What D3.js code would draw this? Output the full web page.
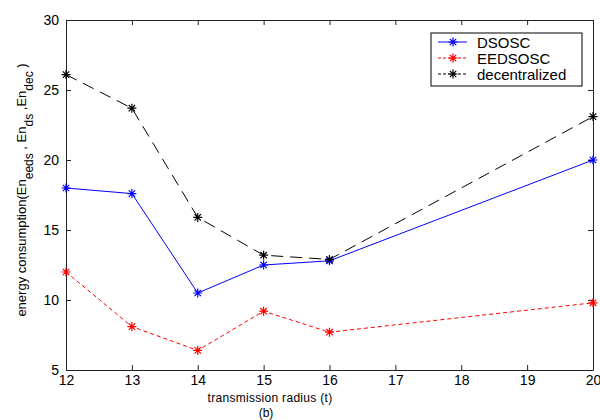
<!DOCTYPE html>
<html>
<head>
<meta charset="utf-8">
<script src="https://cdn.jsdelivr.net/npm/d3@7"></script>
<style>
  body { margin: 0; background: #fff; }
  text { font-family: "Liberation Sans", Arial, sans-serif; }
</style>
</head>
<body>
<script>
// transmission radius values
var radius = [12, 13, 14, 15, 16, 20];

var dsosc = [18.0, 17.6, 10.5, 12.5, 12.8, 20.0];
var eedsosc = [12.0, 8.1, 6.4, 9.2, 7.7, 9.8];
var decentralized = [26.1, 23.7, 15.9, 13.2, 12.9, 23.1];

var xTicks = [12, 13, 14, 15, 16, 17, 18, 19, 20];
var yTicks = [5, 10, 15, 20, 25, 30];

var seriesNames = ["DSOSC", "EEDSOSC", "decentralized"];
var seriesColors = ["#0000ff", "#ff0000", "#000000"];
var seriesDash = [null, "4,3", "12,7"];
var seriesData = [dsosc, eedsosc, decentralized];

var width = 600, height = 420;
var margin = {top: 20, right: 7, bottom: 50, left: 66};

var svg = d3.select("body")
    .append("svg")
    .attr("width", width)
    .attr("height", height);

var x = d3.scaleLinear().domain([12, 20]).range([margin.left, width - margin.right]);
var y = d3.scaleLinear().domain([5, 30]).range([height - margin.bottom, margin.top]);

// box with inward ticks, matlab style
svg.append("g")
    .attr("transform", "translate(0," + y(5) + ")")
    .call(d3.axisBottom(x).tickValues(xTicks).tickSizeInner(-5).tickSizeOuter(0).tickPadding(5))
    .call(function(g) { g.selectAll("text").attr("font-size", 14).attr("fill", "#000"); });

svg.append("g")
    .attr("transform", "translate(0," + y(30) + ")")
    .call(d3.axisTop(x).tickValues(xTicks).tickSizeInner(-5).tickSizeOuter(0).tickFormat(""));

svg.append("g")
    .attr("transform", "translate(" + x(12) + ",0)")
    .call(d3.axisLeft(y).tickValues(yTicks).tickSizeInner(-5).tickSizeOuter(0).tickPadding(7))
    .call(function(g) { g.selectAll("text").attr("font-size", 14).attr("fill", "#000"); });

svg.append("g")
    .attr("transform", "translate(" + x(20) + ",0)")
    .call(d3.axisRight(y).tickValues(yTicks).tickSizeInner(-5).tickSizeOuter(0).tickFormat(""));

svg.selectAll(".domain").attr("stroke", "#222");
svg.selectAll(".tick line").attr("stroke", "#222");

var line = d3.line()
    .x(function(d) { return x(d[0]); })
    .y(function(d) { return y(d[1]); });

function star(g, cx, cy, color) {
  var r = 4.5, q = 3.2;
  var p = "M" + (cx - r) + "," + cy + "H" + (cx + r) +
          "M" + cx + "," + (cy - r) + "V" + (cy + r) +
          "M" + (cx - q) + "," + (cy - q) + "L" + (cx + q) + "," + (cy + q) +
          "M" + (cx - q) + "," + (cy + q) + "L" + (cx + q) + "," + (cy - q);
  g.append("path").attr("d", p).attr("stroke", color).attr("stroke-width", 1.2).attr("fill", "none");
}

seriesData.forEach(function(vals, i) {
  var pts = radius.map(function(r, j) { return [r, vals[j]]; });
  svg.append("path")
      .datum(pts)
      .attr("d", line)
      .attr("fill", "none")
      .attr("stroke", seriesColors[i])
      .attr("stroke-width", 1)
      .attr("stroke-dasharray", seriesDash[i]);
  var g = svg.append("g");
  pts.forEach(function(p) { star(g, x(p[0]), y(p[1]), seriesColors[i]); });
});

// legend
var leg = svg.append("g").attr("transform", "translate(431,33)");
leg.append("rect")
    .attr("width", 151).attr("height", 53)
    .attr("fill", "#fff").attr("stroke", "#000");
seriesNames.forEach(function(name, i) {
  var ly = 9 + i * 16;
  leg.append("line")
      .attr("x1", 7).attr("x2", 36).attr("y1", ly).attr("y2", ly)
      .attr("stroke", seriesColors[i])
      .attr("stroke-dasharray", seriesDash[i] ? "3,2" : null);
  star(leg, 22, ly, seriesColors[i]);
  leg.append("text")
      .attr("x", 46).attr("y", ly + 5.5)
      .attr("font-size", 15)
      .text(name);
});

// axis labels
svg.append("text")
    .attr("x", 270).attr("y", 402)
    .attr("text-anchor", "middle")
    .attr("font-size", 12)
    .attr("letter-spacing", 0.3)
    .text("transmission radius (t)");
svg.append("text")
    .attr("x", 266).attr("y", 417)
    .attr("text-anchor", "middle")
    .attr("font-size", 12)
    .text("(b)");

var yl = svg.append("text")
    .attr("transform", "translate(26,190) rotate(-90)")
    .attr("text-anchor", "middle")
    .attr("font-size", 13);
yl.append("tspan").text("energy consumption(En");
yl.append("tspan").attr("dy", 7).attr("font-size", 12).text("eeds");
yl.append("tspan").attr("dy", -7).text(" , En");
yl.append("tspan").attr("dy", 7).attr("font-size", 12).text("ds");
yl.append("tspan").attr("dy", -7).text(" ,En");
yl.append("tspan").attr("dy", 7).attr("font-size", 12).text("dec");
yl.append("tspan").attr("dy", -7).text(" )");
</script>
</body>
</html>
